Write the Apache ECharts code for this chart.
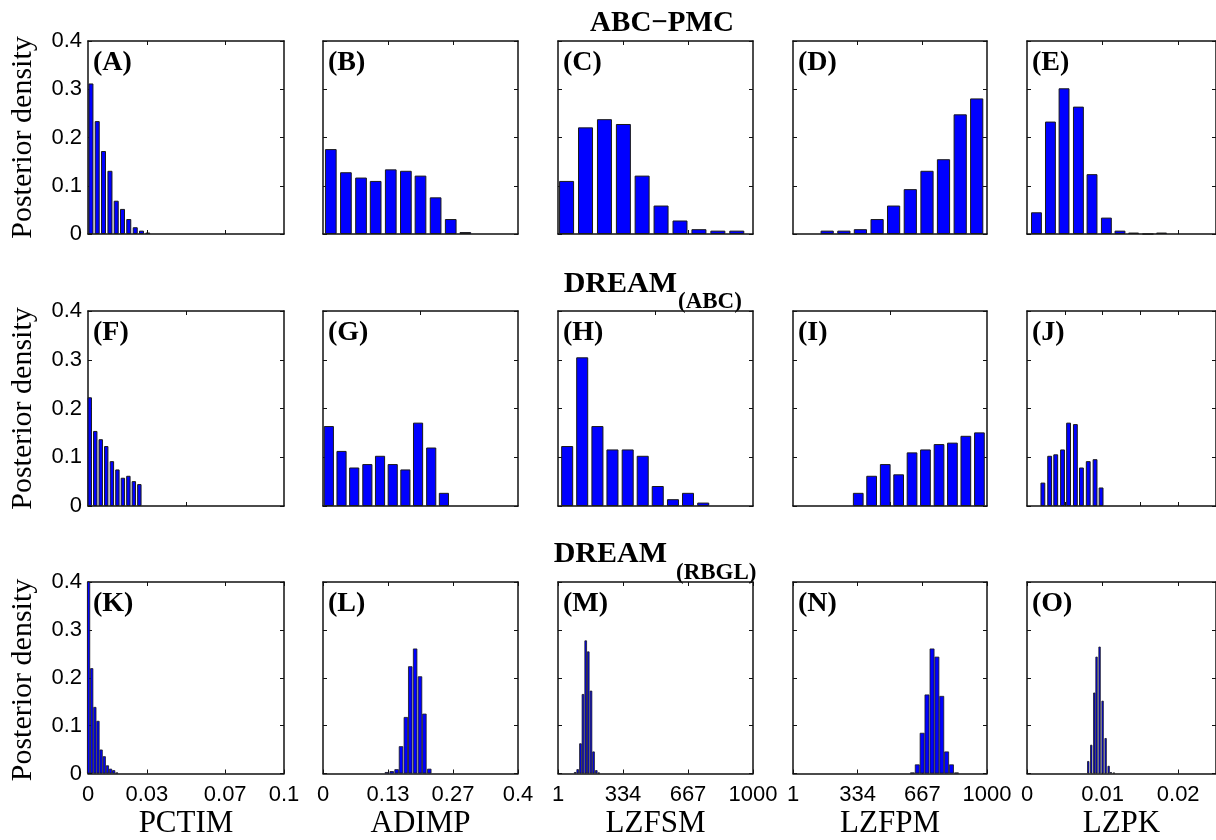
<!DOCTYPE html>
<html>
<head>
<meta charset="utf-8">
<script src="https://cdn.jsdelivr.net/npm/echarts@6/dist/echarts.min.js"></script>
<style>
html,body{margin:0;padding:0;background:#fff;}
#chart{width:1216px;height:840px;}
</style>
</head>
<body>
<div id="chart"></div>
<script>
// ---------------- DATA (bin centres and posterior densities) ----------------
const centersA = [0.0015, 0.0047, 0.0079, 0.0112, 0.0144, 0.0176, 0.0208, 0.0241, 0.0273, 0.0305];
const densityA = [0.312, 0.234, 0.172, 0.131, 0.069, 0.052, 0.031, 0.014, 0.007, 0.003];
const centersB = [0.016, 0.047, 0.078, 0.108, 0.139, 0.170, 0.200, 0.231, 0.262, 0.292];
const densityB = [0.176, 0.128, 0.117, 0.110, 0.134, 0.131, 0.121, 0.076, 0.031, 0.004];
const centersC = [45, 142, 239, 336, 432, 529, 626, 723, 820, 917];
const densityC = [0.110, 0.221, 0.238, 0.228, 0.121, 0.059, 0.028, 0.010, 0.007, 0.007];
const centersD = [177, 263, 348, 434, 519, 605, 691, 776, 862, 947];
const densityD = [0.007, 0.007, 0.010, 0.031, 0.059, 0.093, 0.131, 0.155, 0.248, 0.281];
const centersE = [0.00125, 0.0031, 0.0049, 0.0068, 0.0086, 0.0105, 0.0123, 0.0141, 0.0160, 0.0178];
const densityE = [0.045, 0.233, 0.302, 0.264, 0.124, 0.034, 0.007, 0.003, 0.000, 0.003];

const centersF = [0.0009, 0.0037, 0.0065, 0.0093, 0.0122, 0.0150, 0.0178, 0.0206, 0.0234, 0.0262];
const densityF = [0.223, 0.154, 0.137, 0.123, 0.092, 0.075, 0.058, 0.062, 0.051, 0.045];
const centersG = [0.012, 0.038, 0.064, 0.091, 0.117, 0.143, 0.169, 0.195, 0.222, 0.248];
const densityG = [0.164, 0.113, 0.079, 0.086, 0.103, 0.086, 0.075, 0.171, 0.120, 0.027];
const centersH = [48, 125, 203, 280, 358, 435, 512, 590, 667, 745];
const densityH = [0.123, 0.305, 0.164, 0.116, 0.116, 0.103, 0.041, 0.014, 0.027, 0.007];
const centersI = [337, 406, 476, 545, 614, 683, 753, 822, 891, 961];
const densityI = [0.027, 0.062, 0.086, 0.065, 0.110, 0.116, 0.127, 0.130, 0.144, 0.151];
const centersJ = [0.0021, 0.0030, 0.0038, 0.0047, 0.0055, 0.0064, 0.0072, 0.0081, 0.0090, 0.0098];
const densityJ = [0.048, 0.103, 0.106, 0.116, 0.171, 0.168, 0.079, 0.092, 0.096, 0.038];

const centersK = [0.0003, 0.0019, 0.0035, 0.0051, 0.0067, 0.0083, 0.0099, 0.0115, 0.0131, 0.0147];
const densityK = [0.410, 0.220, 0.139, 0.110, 0.050, 0.036, 0.017, 0.010, 0.007, 0.002];
const centersL = [0.131, 0.141, 0.151, 0.160, 0.170, 0.179, 0.189, 0.199, 0.208, 0.218];
const densityL = [0.003, 0.005, 0.009, 0.057, 0.118, 0.224, 0.261, 0.203, 0.125, 0.010];
const centersM = [89, 102, 116, 129, 143, 156, 170, 183, 197, 210];
const densityM = [0.003, 0.009, 0.063, 0.166, 0.278, 0.255, 0.173, 0.046, 0.007, 0.002];
const centersN = [616, 641, 666, 691, 717, 742, 767, 792, 817, 843];
const densityN = [0.002, 0.019, 0.085, 0.165, 0.261, 0.244, 0.162, 0.046, 0.019, 0.002];
const centersO = [0.0081, 0.0085, 0.0089, 0.0092, 0.0096, 0.0100, 0.0104, 0.0108, 0.0111, 0.0115];
const densityO = [0.026, 0.060, 0.169, 0.244, 0.265, 0.152, 0.074, 0.016, 0.003, 0.002];

// parameter names, axis ranges and tick labels (bottom row)
const paramNames = ['PCTIM', 'ADIMP', 'LZFSM', 'LZFPM', 'LZPK'];
const paramMin = [0, 0, 1, 1, 0];
const paramMax = [0.1, 0.4, 1000, 1000, 0.025];
const pctimTicks = [0, 0.03, 0.07, 0.1];
const pctimTickLabels = ['0', '0.03', '0.07', '0.1'];
const adimpTicks = [0, 0.4 / 3, 0.8 / 3, 0.4];
const adimpTickLabels = ['0', '0.13', '0.27', '0.4'];
const lzfsmTicks = [1, 334, 667, 1000];
const lzfsmTickLabels = ['1', '334', '667', '1000'];
const lzfpmTicks = [1, 334, 667, 1000];
const lzfpmTickLabels = ['1', '334', '667', '1000'];
const lzpkTicks = [0, 0.01, 0.02];
const lzpkTickLabels = ['0', '0.01', '0.02'];

// tick marks of the upper rows (no labels)
const ticksRow1 = [[0.03, 0.07], [0.4 / 3, 0.8 / 3], [334, 667], [334, 667], [0.01, 0.02]];
const ticksRow2 = [[0.05], [0.2], [500], [500], [0.005, 0.01, 0.015, 0.02]];

const yTicks = [0, 0.1, 0.2, 0.3, 0.4];
const yTickLabels = ['0', '0.1', '0.2', '0.3', '0.4'];
const yLabel = 'Posterior density';
const rowTitles = [['ABC\u2212PMC', ''], ['DREAM', '(ABC)'], ['DREAM', '(RBGL)']];
const panelLetters = ['A','B','C','D','E','F','G','H','I','J','K','L','M','N','O'];

const centers = [centersA, centersB, centersC, centersD, centersE,
                 centersF, centersG, centersH, centersI, centersJ,
                 centersK, centersL, centersM, centersN, centersO];
const densities = [densityA, densityB, densityC, densityD, densityE,
                   densityF, densityG, densityH, densityI, densityJ,
                   densityK, densityL, densityM, densityN, densityO];
const bottomTicks = [pctimTicks, adimpTicks, lzfsmTicks, lzfpmTicks, lzpkTicks];
const bottomTickLabels = [pctimTickLabels, adimpTickLabels, lzfsmTickLabels, lzfpmTickLabels, lzpkTickLabels];

// ---------------- LAYOUT ----------------
const colLeft = [88, 323, 558, 793, 1027];
const colWidth = [196, 195, 195, 194, 195];
const rowTop = [41, 311, 582];
const rowHeight = [193, 195, 196];

const SERIF = '"Liberation Serif", "DejaVu Serif", serif';
const SANS = '"Liberation Sans", Arial, sans-serif';
const LINE = '#111';

const grids = [], xAxes = [], yAxes = [], series = [], graphics = [];

function nearestLabel(ticks, labels, v) {
  let best = 0, bd = Infinity;
  ticks.forEach((t, i) => { const d = Math.abs(t - v); if (d < bd) { bd = d; best = i; } });
  return labels[best];
}

for (let r = 0; r < 3; r++) {
  for (let c = 0; c < 5; c++) {
    const p = r * 5 + c;
    grids.push({ left: colLeft[c], top: rowTop[r], width: colWidth[c], height: rowHeight[r],
      show: false, containLabel: false });
    const tk = r === 2 ? bottomTicks[c] : (r === 0 ? ticksRow1[c] : ticksRow2[c]);
    const isBottom = r === 2;
    xAxes.push({
      type: 'value', gridIndex: p, position: 'bottom', min: paramMin[c], max: paramMax[c],
      axisLine: { show: true, onZero: false, lineStyle: { color: LINE, width: 1.5 } },
      axisTick: { show: true, inside: true, length: 4, customValues: tk, lineStyle: { color: LINE, width: 1 } },
      axisLabel: isBottom ? {
        show: true, customValues: bottomTicks[c], margin: 21, verticalAlign: 'middle',
        showMinLabel: true, showMaxLabel: true, hideOverlap: false,
        fontFamily: SANS, fontSize: 22, color: '#000',
        formatter: (v) => nearestLabel(bottomTicks[c], bottomTickLabels[c], v)
      } : { show: false },
      splitLine: { show: false },
      name: isBottom ? paramNames[c] : '',
      nameLocation: 'middle', nameGap: 50,
      nameTextStyle: { fontFamily: SERIF, fontSize: 31, color: '#000', verticalAlign: 'middle' }
    });
    xAxes.push({
      type: 'value', gridIndex: p, position: 'top', min: paramMin[c], max: paramMax[c],
      axisLine: { show: true, onZero: false, lineStyle: { color: LINE, width: 1.5 } },
      axisTick: { show: true, inside: true, length: 4, customValues: tk, lineStyle: { color: LINE, width: 1 } },
      axisLabel: { show: false }, splitLine: { show: false }
    });
    yAxes.push({
      type: 'value', gridIndex: p, position: 'left', min: 0, max: 0.4, interval: 0.1,
      axisLine: { show: true, onZero: false, lineStyle: { color: LINE, width: 1.5 } },
      axisTick: { show: true, inside: true, length: 4, lineStyle: { color: LINE, width: 1 } },
      axisLabel: c === 0 ? { show: true, margin: 6, fontFamily: SANS, fontSize: 22, color: '#000',
        formatter: (v) => nearestLabel(yTicks, yTickLabels, v) } : { show: false },
      splitLine: { show: false }
    });
    yAxes.push({
      type: 'value', gridIndex: p, position: 'right', min: 0, max: 0.4, interval: 0.1,
      axisLine: { show: true, onZero: false, lineStyle: { color: LINE, width: 1.5 } },
      axisTick: { show: true, inside: true, length: 4, lineStyle: { color: LINE, width: 1 } },
      axisLabel: { show: false }, splitLine: { show: false }
    });
    series.push({
      type: 'bar', xAxisIndex: p * 2, yAxisIndex: p * 2,
      barWidth: isBottom ? '100%' : '80%', clip: true,
      silent: true, animation: false,
      itemStyle: { color: '#0000ff', borderColor: '#1a1a1a', borderWidth: isBottom ? 0.8 : 1 },
      data: centers[p].map((x, i) => [x, densities[p][i]])
    });
    graphics.push({
      type: 'text', x: colLeft[c] + 5, y: rowTop[r] + 22,
      style: { text: '(' + panelLetters[p] + ')', font: 'bold 28px ' + SERIF, fill: '#000',
        textAlign: 'left', textVerticalAlign: 'middle' }
    });
  }
  graphics.push({
    type: 'text', x: 23, y: rowTop[r] + rowHeight[r] / 2, rotation: Math.PI / 2,
    style: { text: yLabel, font: '30px ' + SERIF, fill: '#000', textAlign: 'center', textVerticalAlign: 'middle' }
  });
}

graphics.push({ type: 'text', x: 662, y: 24,
  style: { text: rowTitles[0][0], font: 'bold 29px ' + SERIF, fill: '#000', textAlign: 'center', textVerticalAlign: 'middle' } });
graphics.push({ type: 'text', x: 677, y: 284,
  style: { text: rowTitles[1][0], font: 'bold 30px ' + SERIF, fill: '#000', textAlign: 'right', textVerticalAlign: 'middle' } });
graphics.push({ type: 'text', x: 678, y: 302,
  style: { text: rowTitles[1][1], font: 'bold 23px ' + SERIF, fill: '#000', textAlign: 'left', textVerticalAlign: 'middle' } });
graphics.push({ type: 'text', x: 667, y: 554,
  style: { text: rowTitles[2][0], font: 'bold 30px ' + SERIF, fill: '#000', textAlign: 'right', textVerticalAlign: 'middle' } });
graphics.push({ type: 'text', x: 676, y: 573,
  style: { text: rowTitles[2][1], font: 'bold 23px ' + SERIF, fill: '#000', textAlign: 'left', textVerticalAlign: 'middle' } });

const chart = echarts.init(document.getElementById('chart'), null, { renderer: 'canvas' });
chart.setOption({
  animation: false,
  backgroundColor: '#fff',
  grid: grids, xAxis: xAxes, yAxis: yAxes, series: series, graphic: graphics
});
</script>
</body>
</html>
